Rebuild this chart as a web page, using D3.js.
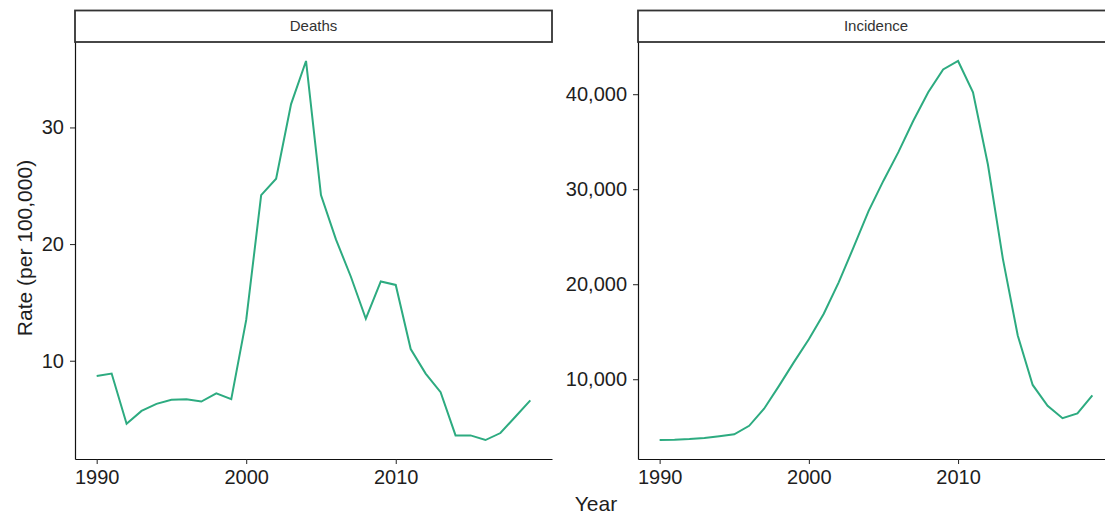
<html>
<head>
<script src="https://d3js.org/d3.v7.min.js" charset="utf-8"></script>
<style type="text/css">
body { margin: 0; background: white; }
svg { display: block; font-family: "Liberation Sans", Arial, sans-serif; }
.tick text { fill: #1e1e1e; font-size: 20px; }
.tick line { stroke: #222; }
.domain { stroke: #111; stroke-width: 1.2px; }
</style>
</head>
<body>
<script type="text/javascript">
var years = d3.range(1990, 2020);
var deaths = [8.7, 8.9, 4.6, 5.7, 6.3, 6.65, 6.7, 6.5, 7.2, 6.7,
	13.5, 24.2, 25.6, 32.0, 35.7, 24.2, 20.4, 17.2, 13.6, 16.8,
	16.5, 11.0, 8.9, 7.3, 3.6, 3.6, 3.2, 3.8, 5.2, 6.6];
var incidence = [3600, 3620, 3700, 3820, 4000, 4200, 5100, 6900, 9300, 11800,
	14200, 16900, 20200, 23900, 27700, 30900, 33900, 37200, 40200, 42600,
	43500, 40200, 32600, 22700, 14600, 9400, 7200, 5900, 6400, 8300];
var xTicks = [1990, 2000, 2010];
var deathTicks = [10, 20, 30];
var incTicks = [10000, 20000, 30000, 40000];

var w = 1105, h = 518;
var lineColor = "#2dab80";

var svg = d3.select("body").append("svg")
	.attr("width", w)
	.attr("height", h);

// both panels share these
var pTop = 42, pBottom = 459;

function expand(ext) {
	var pad = (ext[1] - ext[0]) * 0.05;
	return [ext[0] - pad, ext[1] + pad];
}

function panel(x0, x1, title, values, ticks, fmt) {
	var g = svg.append("g");
	var x = d3.scaleLinear().domain(expand(d3.extent(years))).range([x0, x1]);
	var y = d3.scaleLinear().domain(expand(d3.extent(values))).range([pBottom, pTop]);

	// strip
	g.append("rect")
		.attr("x", x0)
		.attr("y", 10.5)
		.attr("width", x1 - x0)
		.attr("height", pTop - 10.5)
		.attr("fill", "white")
		.attr("stroke", "#333")
		.attr("stroke-width", 1.8);
	g.append("text")
		.text(title)
		.attr("x", (x0 + x1) / 2)
		.attr("y", 27)
		.attr("text-anchor", "middle")
		.attr("dominant-baseline", "middle")
		.attr("font-size", "15px")
		.attr("fill", "#333");

	var line = d3.line()
		.x(function(d, i) { return x(years[i]); })
		.y(function(d) { return y(d); });
	g.append("path")
		.datum(values)
		.attr("d", line)
		.attr("fill", "none")
		.attr("stroke", lineColor)
		.attr("stroke-width", 2);

	g.append("g")
		.attr("transform", "translate(0," + pBottom + ")")
		.call(d3.axisBottom(x).tickValues(xTicks).tickFormat(d3.format("d")).tickSizeInner(5).tickSizeOuter(0).tickPadding(6));
	g.append("g")
		.attr("transform", "translate(" + x0 + ",0)")
		.call(d3.axisLeft(y).tickValues(ticks).tickFormat(fmt).tickSizeInner(5).tickSizeOuter(0).tickPadding(6));
}

panel(75, 552, "Deaths", deaths, deathTicks, d3.format("d"));
panel(638, 1114, "Incidence", incidence, incTicks, d3.format(","));

svg.append("text")
	.text("Year")
	.attr("x", 596)
	.attr("y", 511)
	.attr("text-anchor", "middle")
	.attr("font-size", "21px")
	.attr("fill", "#1e1e1e");
svg.append("text")
	.text("Rate (per 100,000)")
	.attr("transform", "translate(32,248) rotate(-90)")
	.attr("text-anchor", "middle")
	.attr("font-size", "21px")
	.attr("fill", "#1e1e1e");
</script>
</body>
</html>
